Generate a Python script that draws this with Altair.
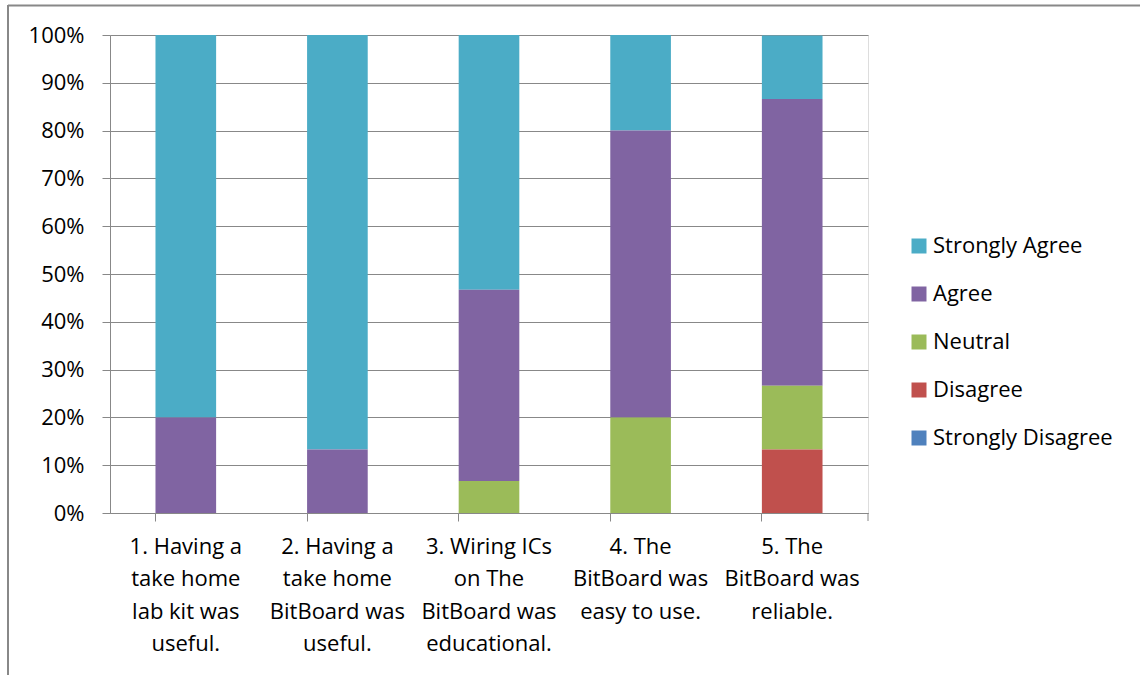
import altair as alt
import pandas as pd

categories = [
    "1. Having a|take home|lab kit was|useful.",
    "2. Having a|take home|BitBoard was|useful.",
    "3. Wiring ICs|on The|BitBoard was|educational.",
    "4. The|BitBoard was|easy to use.",
    "5. The|BitBoard was|reliable.",
]
responses = ["Strongly Agree", "Agree", "Neutral", "Disagree", "Strongly Disagree"]
colors = ["#4BACC6", "#8064A2", "#9BBB59", "#C0504D", "#4F81BD"]

strongly_agree = [80.0, 86.7, 53.3, 20.0, 13.3]
agree = [20.0, 13.3, 40.0, 60.0, 60.0]
neutral = [0.0, 0.0, 6.7, 20.0, 13.3]
disagree = [0.0, 0.0, 0.0, 0.0, 13.3]
strongly_disagree = [0.0, 0.0, 0.0, 0.0, 0.0]

series = [strongly_agree, agree, neutral, disagree, strongly_disagree]
rows = []
for r_i, (resp, vals) in enumerate(zip(responses, series)):
    for c, v in zip(categories, vals):
        rows.append({"cat": c, "resp": resp, "val": v / 100.0, "rank": len(responses) - r_i})
df = pd.DataFrame(rows)

W, H = 758, 478
PL, PT = 110, 35
FONT = "Open Sans"
FS = 22

bars = alt.Chart(df).mark_bar().encode(
    x=alt.X("cat:N", sort=categories, title=None,
            scale=alt.Scale(paddingInner=0.6, paddingOuter=0.3),
            axis=alt.Axis(labelExpr="split(datum.label, '|')", labelAngle=0,
                          labelFontSize=FS, labelFont=FONT, labelColor="#000000",
                          labelLineHeight=32.5, labelPadding=15, labelBaseline="top",
                          bandPosition=0, tickSize=8, tickColor="#888888",
                          domainColor="#888888", grid=False, labelLimit=300)),
    y=alt.Y("val:Q", stack="zero", title=None,
            scale=alt.Scale(domain=[0, 1], nice=False),
            axis=alt.Axis(format=".0%", values=[i / 10 for i in range(11)],
                          labelFontSize=FS, labelFont=FONT, labelColor="#000000",
                          labelPadding=18, tickSize=8, tickColor="#888888",
                          domainColor="#888888", gridColor="#888888")),
    color=alt.Color("resp:N", sort=responses,
                    scale=alt.Scale(domain=responses, range=colors),
                    legend=alt.Legend(title=None, orient="none", legendX=798, legendY=200,
                                      symbolType="square", symbolSize=225,
                                      symbolStrokeWidth=0, labelFontSize=FS,
                                      labelFont=FONT, labelColor="#000000",
                                      labelLimit=300, rowPadding=26, labelOffset=3)),
    order=alt.Order("rank:Q", sort="ascending"),
)

end_tick = alt.Chart(pd.DataFrame({"a": [0]})).mark_rule(color="#888888").encode(
    x=alt.value(W), y=alt.value(H), y2=alt.value(H + 8))

border_top = alt.Chart(pd.DataFrame({"a": [0]})).mark_rule(color="#888888", strokeWidth=2).encode(
    x=alt.value(8 - PL), x2=alt.value(1140 - PL), y=alt.value(5.5 - PT))
border_left = alt.Chart(pd.DataFrame({"a": [0]})).mark_rule(color="#888888", strokeWidth=2).encode(
    x=alt.value(8 - PL), y=alt.value(5 - PT), y2=alt.value(675 - PT))

chart = alt.layer(bars, end_tick, border_top, border_left).properties(
    width=W, height=H,
    autosize=alt.AutoSizeParams(type="none"),
    padding={"left": PL, "top": PT, "right": 1140 - PL - W, "bottom": 675 - PT - H},
).configure_view(stroke=None).configure(background="white")

chart.save("out.html", embed_options={"renderer": "svg", "actions": False})
